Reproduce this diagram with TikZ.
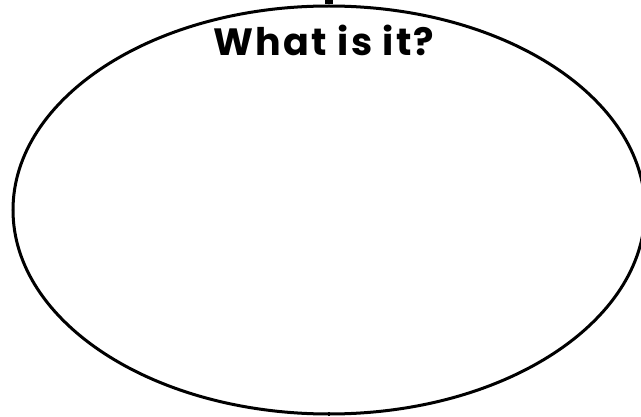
\documentclass[tikz,border=0pt]{standalone}
\usepackage{fontspec}
\newfontfamily\titlefont{Poppins}[LetterSpace=6]
\usepackage{tikz}
\usetikzlibrary{shapes,positioning,calc}

\begin{document}
\begin{tikzpicture}[x=1pt,y=1pt]
    \useasboundingbox (0,0) rectangle (641,416);

    % Oval
    \node[draw,ellipse,line width=3pt,minimum width=632pt,minimum height=408pt,inner sep=0pt] (oval) at (329,206) {};

    % Stem on top
    \coordinate (stemtop) at (329,420);
    \draw[line width=8pt] (stemtop) -- (oval.north);

    % Tick at bottom
    \coordinate (ticktop) at ($(oval.south)+(0,4)$);
    \draw[line width=2pt] (oval.south) -- (ticktop);

    % Title
    \node[font=\titlefont\bfseries\fontsize{38}{38}\selectfont] (title) at (324,376) {What is it?};

\end{tikzpicture}
\end{document}
